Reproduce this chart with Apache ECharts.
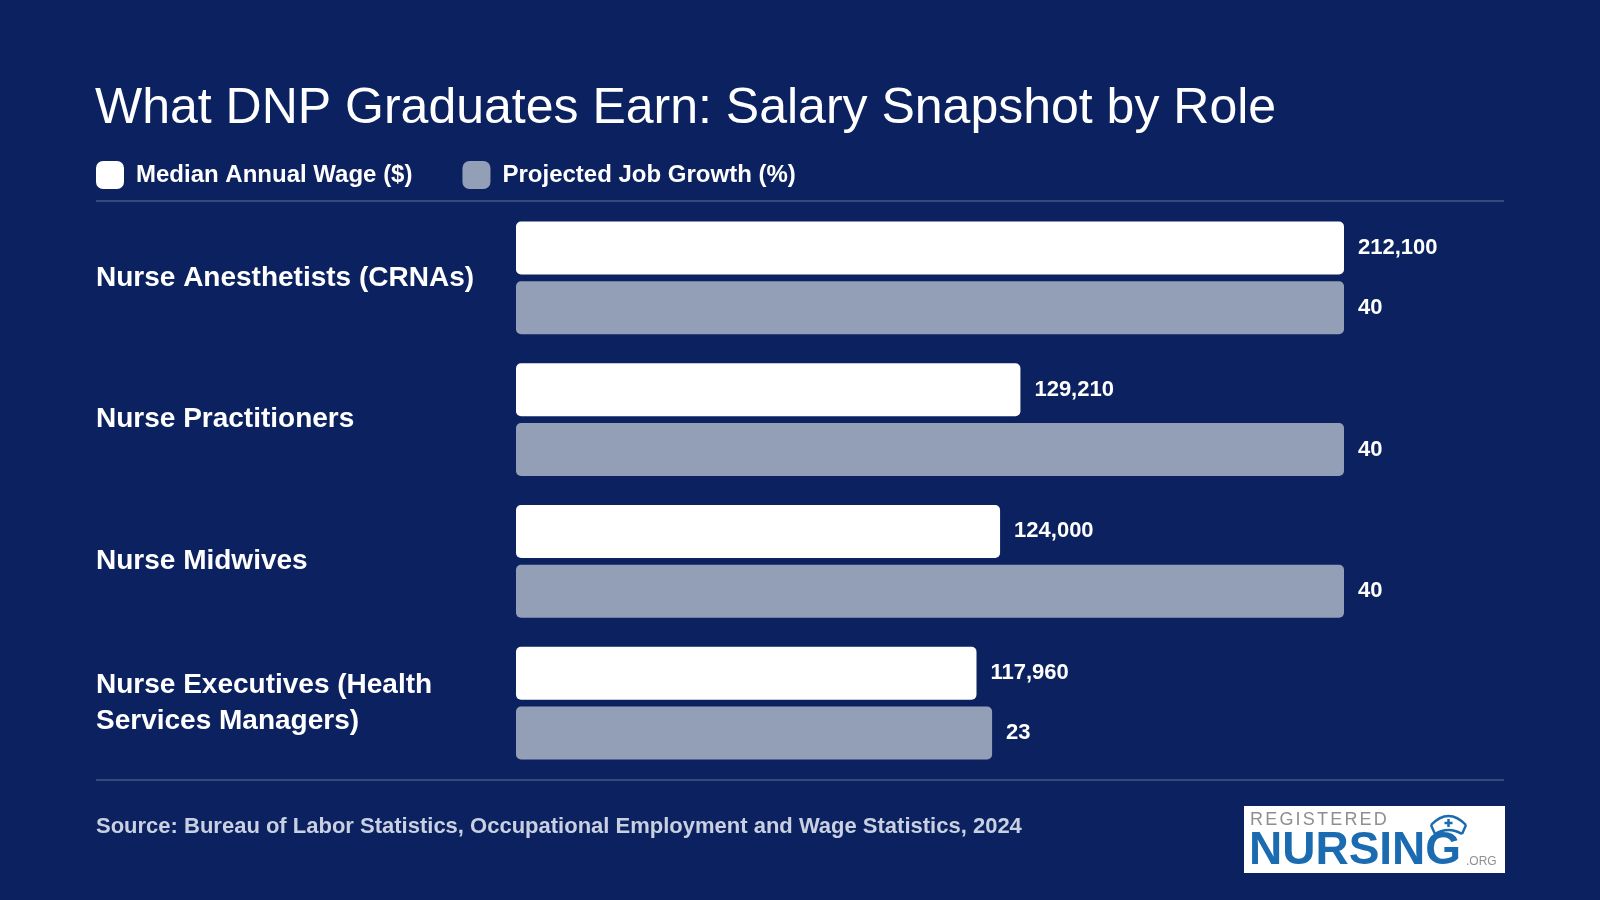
<!DOCTYPE html>
<html lang="en">
<head>
    <meta charset="UTF-8">
    <title>DNP Salary Snapshot</title>
    <style>
        html, body { margin: 0; padding: 0; background: #0c2260; }
        #main { width: 1600px; height: 900px; }
    </style>
</head>
<body>
<div id="main"></div>
<script src="https://cdn.jsdelivr.net/npm/echarts@6/dist/echarts.min.js"></script>
<script>
    // roles shown top to bottom
    const roles = [
        'Nurse Anesthetists (CRNAs)',
        'Nurse Practitioners',
        'Nurse Midwives',
        'Nurse Executives (Health\nServices Managers)'
    ];
    const wageName = 'Median Annual Wage ($)';
    const growthName = 'Projected Job Growth (%)';
    const medianWage = [212100, 129210, 124000, 117960];
    const jobGrowth = [40, 40, 40, 23];

    const FONT = '"Liberation Sans", Arial, Helvetica, sans-serif';
    const bg = '#0c2260';
    const grayBar = '#929fb7';
    const logoBlue = '#1a6bb0';
    const logoGray = '#8f8f8f';

    let myChart = echarts.init(document.getElementById('main'));

    // "REGISTERED" with letter spacing, measured letter by letter
    let ctx = document.createElement('canvas').getContext('2d');
    ctx.font = '18px ' + FONT;
    let regLetters = [];
    let cx = 1250;
    'REGISTERED'.split('').forEach(function (ch) {
        regLetters.push({
            type: 'text',
            x: cx,
            y: 811.5,
            style: {text: ch, fill: logoGray, font: '18px ' + FONT}
        });
        cx += ctx.measureText(ch).width + 2.2;
    });

    let option = {
        backgroundColor: bg,
        textStyle: {fontFamily: FONT},
        title: {
            text: 'What DNP Graduates Earn: Salary Snapshot by Role',
            left: 90,
            top: 79,
            textStyle: {color: '#ffffff', fontSize: 50, fontWeight: 'normal', fontFamily: FONT}
        },
        legend: {
            left: 96,
            top: 161,
            padding: 0,
            icon: 'roundRect',
            itemWidth: 28,
            itemHeight: 28,
            itemGap: 50,
            data: [wageName, growthName],
            textStyle: {color: '#ffffff', fontSize: 24, fontWeight: 'bold', fontFamily: FONT, padding: [0, 0, 0, 7]}
        },
        grid: {
            left: 516,
            right: 256,
            top: 207,
            bottom: 126
        },
        xAxis: [
            {type: 'value', min: 0, max: 'dataMax', show: false},
            {type: 'value', min: 0, max: 'dataMax', show: false}
        ],
        yAxis: {
            type: 'category',
            inverse: true,
            data: roles,
            axisLine: {show: false},
            axisTick: {show: false},
            splitLine: {show: false},
            axisLabel: {
                align: 'left',
                margin: 420,
                color: '#ffffff',
                fontSize: 28,
                fontWeight: 'bold',
                lineHeight: 36,
                fontFamily: FONT
            }
        },
        series: [
            {
                name: wageName,
                type: 'bar',
                xAxisIndex: 0,
                data: medianWage,
                barWidth: 53,
                barGap: '13%',
                itemStyle: {color: '#ffffff', borderRadius: 5},
                label: {
                    show: true,
                    position: 'right',
                    distance: 14,
                    color: '#ffffff',
                    fontSize: 22,
                    fontWeight: 'bold',
                    fontFamily: FONT,
                    formatter: function (p) {
                        return p.value.toLocaleString('en-US');
                    }
                }
            },
            {
                name: growthName,
                type: 'bar',
                xAxisIndex: 1,
                data: jobGrowth,
                barWidth: 53,
                barGap: '13%',
                itemStyle: {color: grayBar, borderRadius: 5},
                label: {
                    show: true,
                    position: 'right',
                    distance: 14,
                    color: '#ffffff',
                    fontSize: 22,
                    fontWeight: 'bold',
                    fontFamily: FONT
                }
            }
        ],
        graphic: [
            // divider lines
            {type: 'line', shape: {x1: 96, y1: 201, x2: 1504, y2: 201}, style: {stroke: '#334a7e', lineWidth: 2}},
            {type: 'line', shape: {x1: 96, y1: 780, x2: 1504, y2: 780}, style: {stroke: '#334a7e', lineWidth: 2}},
            // source note
            {
                type: 'text',
                x: 96,
                y: 816,
                style: {
                    text: 'Source: Bureau of Labor Statistics, Occupational Employment and Wage Statistics, 2024',
                    fill: '#c9d0e2',
                    font: 'bold 22px ' + FONT
                }
            },
            // logo box
            {type: 'rect', shape: {x: 1244, y: 806, width: 261, height: 67}, style: {fill: '#ffffff'}},
            {
                type: 'text',
                x: 1249,
                y: 828,
                style: {text: 'NURSING', fill: logoBlue, font: 'bold 46px ' + FONT}
            },
            {
                type: 'text',
                x: 1466,
                y: 855.5,
                style: {text: '.ORG', fill: logoGray, font: '12px ' + FONT}
            },
            // nurse cap
            {type: 'bezierCurve', shape: {x1: 1431, y1: 825, x2: 1466, y2: 825, cpx1: 1448.5, cpy1: 807}, style: {fill: 'none', stroke: logoBlue, lineWidth: 2.5}},
            {type: 'bezierCurve', shape: {x1: 1435, y1: 834, x2: 1462, y2: 834, cpx1: 1448.5, cpy1: 826}, style: {fill: 'none', stroke: logoBlue, lineWidth: 2.5}},
            {type: 'line', shape: {x1: 1431, y1: 825, x2: 1435, y2: 834}, style: {stroke: logoBlue, lineWidth: 2.5}},
            {type: 'line', shape: {x1: 1466, y1: 825, x2: 1462, y2: 834}, style: {stroke: logoBlue, lineWidth: 2.5}},
            {type: 'line', shape: {x1: 1448.5, y1: 819, x2: 1448.5, y2: 827}, style: {stroke: logoBlue, lineWidth: 2.5}},
            {type: 'line', shape: {x1: 1444.5, y1: 823, x2: 1452.5, y2: 823}, style: {stroke: logoBlue, lineWidth: 2.5}}
        ].concat(regLetters)
    };

    myChart.setOption(option);
</script>
</body>
</html>
